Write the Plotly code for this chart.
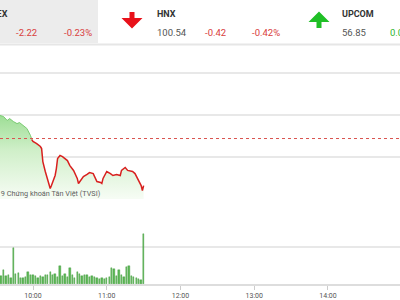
import plotly.graph_objects as go

# ---------------- data ----------------
price_times = ["09:33","09:36","09:39","09:41","09:44","09:47","09:49","09:52","09:55","09:58",
               "09:59","10:00","10:03","10:06","10:07","10:08","10:10","10:11","10:14","10:15",
               "10:16","10:18","10:19","10:20","10:22","10:24","10:28","10:30","10:33","10:36",
               "10:37","10:38","10:41","10:44","10:46","10:49","10:52","10:55","10:56","10:57",
               "11:00","11:03","11:05","11:08","11:11","11:12","11:15","11:17","11:21","11:23",
               "11:25","11:28","11:29","11:30"]
price_values = [965.98,965.93,965.74,965.83,965.69,965.59,965.64,965.50,965.36,965.02,
                964.83,964.74,964.64,964.50,964.40,963.78,963.31,963.12,962.50,962.64,
                962.83,963.12,963.45,963.93,964.07,964.02,963.83,963.59,963.36,962.98,
                962.74,962.83,963.07,963.17,963.26,963.21,962.83,962.79,962.74,962.98,
                963.31,963.21,963.12,963.17,963.12,963.36,963.50,963.36,963.31,963.21,
                962.98,962.64,962.40,962.64]
reference_price = 964.88

vol_times = ["09:34","09:36","09:38","09:40","09:42","09:44","09:46","09:48","09:50","09:52",
             "09:54","09:56","09:58","10:00","10:02","10:04","10:06","10:08","10:10","10:12",
             "10:14","10:16","10:18","10:20","10:22","10:24","10:26","10:28","10:30","10:32",
             "10:34","10:36","10:38","10:40","10:42","10:44","10:46","10:48","10:50","10:52",
             "10:54","10:56","10:58","11:00","11:02","11:04","11:06","11:08","11:10","11:12",
             "11:14","11:16","11:18","11:20","11:22","11:24","11:26","11:28","11:30"]
vol_values = [0.21,0.37,0.21,0.24,0.16,0.96,0.27,0.29,0.16,0.16,
              0.19,0.32,0.24,0.24,0.21,0.16,0.21,0.19,0.24,0.24,
              0.32,0.24,0.27,0.19,0.48,0.21,0.27,0.19,0.43,0.24,
              0.16,0.32,0.27,0.21,0.24,0.24,0.19,0.21,0.19,0.16,
              0.13,0.16,0.13,0.16,0.19,0.43,0.40,0.21,0.37,0.24,
              0.19,0.45,0.48,0.21,0.19,0.16,0.13,0.11,1.33]

tick_labels = ["10:00","11:00","12:00","13:00","14:00","15:00"]
day = "2019-01-01 "

# header items
idx_names = ["VN-INDEX", "HNX", "UPCOM"]
idx_values = ["", "100.54", "56.85"]
idx_changes = ["-2.22", "-0.42", "0.06"]
idx_pct = ["-0.23%", "-0.42%", "0.01%"]
watermark = "© 2019 Chứng khoán Tân Việt (TVSI)"

# ---------------- helpers ----------------
W, H = 400, 300
def px(x): return x / W
def py(y): return 1 - y / H

pt = [day + t for t in price_times]
vt = [day + t for t in vol_times]

fig = go.Figure()

# price area fill
fig.add_trace(go.Scatter(
    x=pt, y=price_values, mode="lines", line=dict(width=0),
    fill="tozeroy",
    fillgradient=dict(type="vertical", start=962.0, stop=966.2,
                      colorscale=[[0, "rgba(246,252,244,1)"], [0.55, "#cfefc8"], [1, "#95db8d"]]),
    hoverinfo="skip", showlegend=False, xaxis="x", yaxis="y"))

split = next(i for i, v in enumerate(price_values) if v < reference_price)
fig.add_trace(go.Scatter(x=pt[:split + 1], y=price_values[:split + 1], mode="lines",
                         line=dict(color="#7acb72", width=1), showlegend=False,
                         xaxis="x", yaxis="y"))
fig.add_trace(go.Scatter(x=pt[split:], y=price_values[split:], mode="lines",
                         line=dict(color="#d8201f", width=1.5), showlegend=False,
                         xaxis="x", yaxis="y"))

# volume bars
fig.add_trace(go.Bar(x=vt, y=vol_values, width=60000 * 1.1,
                     marker=dict(color="#5cb856", line=dict(color="#3a9535", width=0.4)),
                     showlegend=False, xaxis="x2", yaxis="y2"))

x_range = [day + "09:33:09", day + "14:58:35"]
tickvals = [day + t for t in tick_labels]

fig.update_layout(
    width=W, height=H, margin=dict(l=0, r=0, t=0, b=0),
    paper_bgcolor="white", plot_bgcolor="rgba(0,0,0,0)",
    font=dict(family="Roboto, Arial, sans-serif"),
    bargap=0,
    xaxis=dict(domain=[0, 1], range=x_range, type="date", matches="x2",
               showticklabels=False, showgrid=False, zeroline=False, anchor="y"),
    yaxis=dict(domain=[py(199), py(46)], range=[962, 962 + (199 - 46) / 21],
               tick0=962, dtick=2, showticklabels=False, showgrid=True,
               gridcolor="#e8e8e8", gridwidth=1.5, zeroline=False),
    xaxis2=dict(domain=[0, 1], range=x_range, type="date", anchor="y2",
                tickvals=tickvals, ticktext=tick_labels, ticks="outside", ticklen=4,
                tickcolor="#cccccc", tickfont=dict(size=7, color="#555555"),
                showline=True, linecolor="#dddddd", linewidth=1.5, showgrid=False),
    yaxis2=dict(domain=[py(284), py(208)], range=[0, 2 + 1 / 37.5], tick0=0, dtick=1,
                showticklabels=False, showgrid=True, gridcolor="#e8e8e8", gridwidth=1.5,
                zeroline=False),
)

shapes = []
# header gray block + separator
shapes.append(dict(type="rect", xref="paper", yref="paper", x0=0, x1=px(98), y0=py(43), y1=1,
                   fillcolor="#ececec", line=dict(width=0), layer="below"))
shapes.append(dict(type="line", xref="paper", yref="paper", x0=0, x1=1, y0=py(44.5), y1=py(44.5),
                   line=dict(color="#e6e6e6", width=2)))
# reference line
shapes.append(dict(type="line", xref="paper", yref="y", x0=0, x1=1, y0=reference_price, y1=reference_price,
                   line=dict(color="#d9534f", width=1, dash="dot")))

def path(points):
    return "M " + " L ".join(f"{px(x):.5f},{py(y):.5f}" for x, y in points) + " Z"

down = [(129.5, 12), (134.5, 12), (134.5, 18), (142.5, 18), (132, 28.5), (121.5, 18), (129.5, 18)]
up = [(319, 11.5), (329.5, 22), (321.5, 22), (321.5, 28), (316.5, 28), (316.5, 22), (308.5, 22)]
shapes.append(dict(type="path", xref="paper", yref="paper", path=path(down),
                   fillcolor="#e8111a", line=dict(width=0)))
shapes.append(dict(type="path", xref="paper", yref="paper", path=path(up),
                   fillcolor="#1fbf26", line=dict(width=0)))
fig.update_layout(shapes=shapes)

red = "#d9403c"
green = "#2cb52c"
ann = []
def text(t, x, y, anchor="left", size=9.5, color="#555555", bold=False):
    ann.append(dict(text=(f"<b>{t}</b>" if bold else t), xref="paper", yref="paper",
                    x=px(x), y=py(y), xanchor=anchor, yanchor="middle", showarrow=False,
                    font=dict(size=size, color=color)))

text(idx_names[0], 10, 13.5, anchor="right", size=9, color="#333333", bold=True)
text(idx_changes[0], 38.5, 33, anchor="right", color=red)
text(idx_pct[0], 93.5, 33, anchor="right", color=red)

text(idx_names[1], 154.5, 13.5, size=9, color="#333333", bold=True)
text(idx_values[1], 154.5, 33)
text(idx_changes[1], 202.5, 33, color=red)
text(idx_pct[1], 249.5, 33, color=red)

text(idx_names[2], 339.5, 13.5, size=9, color="#333333", bold=True)
text(idx_values[2], 339.5, 33)
text(idx_changes[2], 387.5, 33, color=green)

text(watermark, 103.5, 193, anchor="right", size=7.3, color="#5f5f5f")
fig.update_layout(annotations=ann)

fig.write_html("out.html")
